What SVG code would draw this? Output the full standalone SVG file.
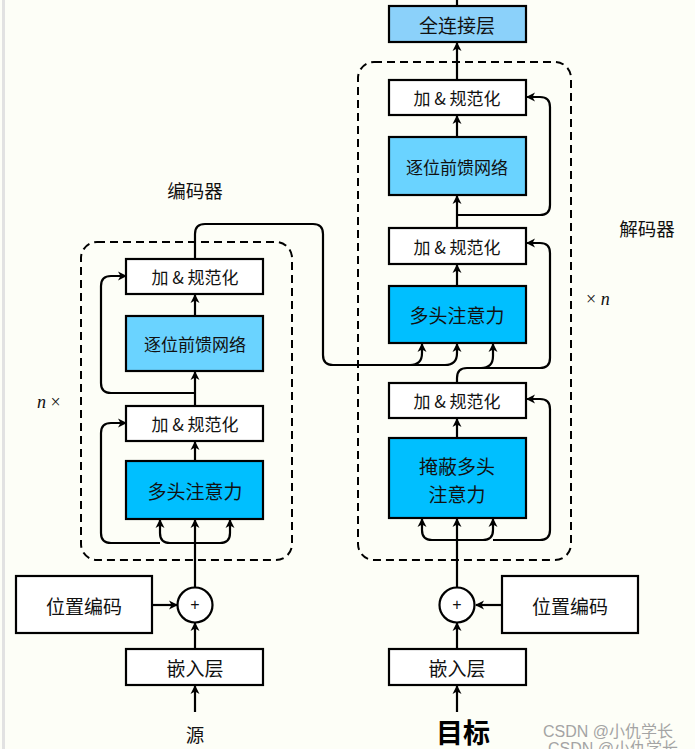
<svg xmlns="http://www.w3.org/2000/svg" width="695" height="749" viewBox="0 0 695 749">
<defs>
<marker id="ah" viewBox="-10 -6 12 12" refX="0" refY="0" markerWidth="12" markerHeight="12" markerUnits="userSpaceOnUse" orient="auto">
<path d="M1,0 L-8,-4.5 L-5.5,0 L-8,4.5 Z" fill="#000"/>
</marker>
<style>
.bx{stroke:#000;stroke-width:2.2}
.w{fill:#fff}
.ffn{fill:#6ad3ff}
.att{fill:#00bfff}
.fc{fill:#8bd1fa}
.t{font-family:"Noto Sans CJK SC","Noto Sans",sans-serif;font-size:17px;fill:#111;text-anchor:middle;dominant-baseline:central}
.tb{font-size:19px}
.lbl{font-family:"Noto Sans CJK SC","Noto Sans",sans-serif;font-size:18.5px;fill:#111;text-anchor:middle}
.big{font-size:27px;font-weight:bold;fill:#000}
.math{font-family:"Liberation Serif",serif;font-size:18px;fill:#111}
.dash{fill:none;stroke:#000;stroke-width:2;stroke-dasharray:8 5}
.c{fill:none;stroke:#000;stroke-width:2.2}
.ca{fill:none;stroke:#000;stroke-width:2.2;marker-end:url(#ah)}
.wm{font-family:"Liberation Sans","Noto Sans CJK SC",sans-serif;font-size:16px;fill:#a4a4a4}
.plus{font-family:"Liberation Sans",sans-serif;font-size:16px;fill:#111;text-anchor:middle;dominant-baseline:central}
</style>
</defs>
<rect width="695" height="749" fill="#fdfef7"/>
<line x1="3.5" y1="0" x2="3.5" y2="749" stroke="#e2e2e2" stroke-width="3"/>

<g id="encoder-frame">
<rect class="dash" x="81" y="242" width="211" height="318" rx="16"/>
<text class="lbl" x="195" y="198">编码器</text>
<text class="math" x="37" y="408"><tspan font-style="italic">n</tspan> ×</text>
</g>
<g id="decoder-frame">
<rect class="dash" x="358" y="62" width="213" height="498" rx="16"/>
<text class="lbl" x="647" y="236">解码器</text>
<text class="math" x="586" y="305">× <tspan font-style="italic">n</tspan></text>
</g>

<g id="connectors">
<path class="ca" d="M195,712 L195,686"/>
<path class="ca" d="M195,649 L195,623"/>
<path class="ca" d="M152,605 L177,605"/>
<path class="ca" d="M195,587 L195,520"/>
<path class="ca" d="M195,543 L170,543 Q160,543 160,533 L160,520"/>
<path class="ca" d="M195,543 L220,543 Q230,543 230,533 L230,520"/>
<path class="ca" d="M160,543 L111,543 Q101,543 101,533 L101,433 Q101,423 111,423 L126,423"/>
<path class="ca" d="M195,461 L195,442"/>
<path class="ca" d="M195,406 L195,372"/>
<path class="ca" d="M195,393 L111,393 Q101,393 101,383 L101,286 Q101,276 111,276 L126,276"/>
<path class="ca" d="M195,316 L195,295"/>
<path class="ca" d="M195,259 L195,234 Q195,224 205,224 L313,224 Q323,224 323,234 L323,355 Q323,365 333,365 L410,365 Q422,365 422,353 L422,344"/>
<path class="ca" d="M410,365 L445,365 Q457,365 457,353 L457,344"/>
<path class="ca" d="M457,712 L457,686"/>
<path class="ca" d="M457,649 L457,623"/>
<path class="ca" d="M502,605 L476,605"/>
<path class="ca" d="M457,587 L457,519"/>
<path class="ca" d="M457,540 L432,540 Q422,540 422,530 L422,519"/>
<path class="ca" d="M457,540 L483,540 Q493,540 493,530 L493,519"/>
<path class="ca" d="M493,540 L540,540 Q550,540 550,530 L550,409 Q550,399 540,399 L527,399"/>
<path class="ca" d="M457,438 L457,419"/>
<path class="ca" d="M457,383 L457,378 Q457,368 467,368 L540,368 Q550,368 550,358 L550,253 Q550,243 540,243 L527,243"/>
<path class="ca" d="M481,368 Q493,368 493,356 L493,344"/>
<path class="ca" d="M457,286 L457,265"/>
<path class="ca" d="M457,228 L457,196"/>
<path class="ca" d="M457,215 L540,215 Q550,215 550,205 L550,107 Q550,97 540,97 L527,97"/>
<path class="ca" d="M457,137 L457,116"/>
<path class="ca" d="M457,80 L457,43"/>
<path class="c" d="M457,6 L457,0"/>
</g>

<g id="enc-src"><text class="lbl" x="195" y="742">源</text></g>
<g id="enc-embed"><rect class="bx w" x="126" y="649" width="137" height="36"/><text class="t tb" x="195" y="667">嵌入层</text></g>
<g id="enc-pos"><rect class="bx w" x="16" y="576" width="136" height="57"/><text class="t tb" x="84" y="605">位置编码</text></g>
<g id="enc-plus"><circle class="bx w" cx="195" cy="605" r="17.5"/><text class="plus" x="195" y="604">+</text></g>
<g id="enc-mha"><rect class="bx att" x="126" y="461" width="137" height="58"/><text class="t tb" x="195" y="490">多头注意力</text></g>
<g id="enc-addnorm1"><rect class="bx w" x="126" y="406" width="137" height="35"/><text class="t" x="195" y="423">加 &amp; 规范化</text></g>
<g id="enc-ffn"><rect class="bx ffn" x="126" y="316" width="137" height="55"/><text class="t" x="195" y="343">逐位前馈网络</text></g>
<g id="enc-addnorm2"><rect class="bx w" x="126" y="259" width="137" height="35"/><text class="t" x="195" y="276">加 &amp; 规范化</text></g>

<g id="dec-tgt"><text class="lbl big" x="463" y="743">目标</text></g>
<g id="dec-embed"><rect class="bx w" x="389" y="649" width="137" height="36"/><text class="t tb" x="457" y="667">嵌入层</text></g>
<g id="dec-pos"><rect class="bx w" x="502" y="576" width="136" height="57"/><text class="t tb" x="570" y="605">位置编码</text></g>
<g id="dec-plus"><circle class="bx w" cx="457" cy="605" r="17.5"/><text class="plus" x="457" y="604">+</text></g>
<g id="dec-masked"><rect class="bx att" x="389" y="438" width="137" height="80"/><text class="t tb" x="457" y="465">掩蔽多头</text><text class="t tb" x="457" y="493">注意力</text></g>
<g id="dec-addnorm1"><rect class="bx w" x="389" y="383" width="137" height="35"/><text class="t" x="457" y="400">加 &amp; 规范化</text></g>
<g id="dec-mha"><rect class="bx att" x="389" y="286" width="137" height="57"/><text class="t tb" x="457" y="314">多头注意力</text></g>
<g id="dec-addnorm2"><rect class="bx w" x="389" y="228" width="137" height="36"/><text class="t" x="457" y="246">加 &amp; 规范化</text></g>
<g id="dec-ffn"><rect class="bx ffn" x="389" y="137" width="137" height="58"/><text class="t" x="457" y="166">逐位前馈网络</text></g>
<g id="dec-addnorm3"><rect class="bx w" x="389" y="80" width="137" height="35"/><text class="t" x="457" y="97">加 &amp; 规范化</text></g>
<g id="dec-fc"><rect class="bx fc" x="389" y="6" width="137" height="36"/><text class="t tb" x="457" y="24">全连接层</text></g>

<g id="watermark">
<text class="wm" x="543" y="737">CSDN @小仇学长</text>
<text class="wm" x="548" y="754">CSDN @小仇学长</text>
</g>
</svg>
